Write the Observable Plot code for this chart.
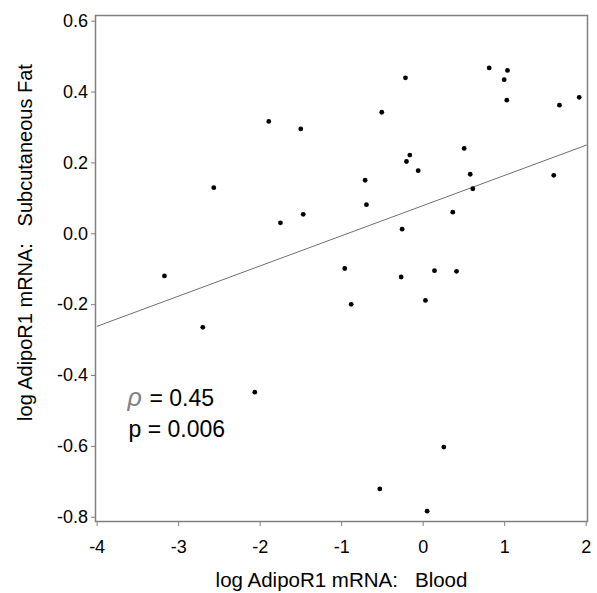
<!DOCTYPE html>
<html><head><meta charset="utf-8">
<script src="https://cdn.jsdelivr.net/npm/d3@7"></script>
<script src="https://cdn.jsdelivr.net/npm/@observablehq/plot@0.6"></script>
<style>body{margin:0;background:#fff}</style>
</head><body><div id="chart"></div>
<script>
// log AdipoR1 mRNA in blood (x) and subcutaneous fat (y)
const blood = [-1.894, -1.502, -2.569, -1.751, -1.472, -3.174,
  0.810, 1.034, 0.994, 1.026, -0.217, -0.508, 1.672, 1.914, 0.503, -0.164,
  -0.205, -0.061, 0.577, 0.609, 1.602, -0.712, -0.696, 0.363, -0.258, -0.962,
  0.139, 0.409, -0.270, 0.028, -0.883, 0.253, -0.532, 0.049, -2.704, -2.066];
const fat = [0.317, 0.296, 0.130, 0.031, 0.055, -0.119,
  0.468, 0.461, 0.435, 0.377, 0.440, 0.343, 0.363, 0.385, 0.241, 0.222,
  0.204, 0.178, 0.168, 0.127, 0.165, 0.151, 0.082, 0.061, 0.013, -0.098,
  -0.104, -0.106, -0.122, -0.188, -0.199, -0.602, -0.720, -0.783, -0.264, -0.447];
// regression line end points
const fitX = [-4, 2];
const fitY = [-0.261, 0.250];
const xTicks = [-4, -3, -2, -1, 0, 1, 2];
const yTicks = [-0.8, -0.6, -0.4, -0.2, 0.0, 0.2, 0.4, 0.6];
const rhoSymbol = "\u03C1";
const rhoText = "= 0.45";
const pText = "p = 0.006";
const xTitle = "log AdipoR1 mRNA:\u00a0\u00a0 Blood";
const yTitle = "log AdipoR1 mRNA:\u00a0\u00a0 Subcutaneous Fat";

const points = blood.map((x, i) => ({x, y: fat[i]}));
const fit = fitX.map((x, i) => ({x, y: fitY[i]}));
const font = "'Liberation Sans', Arial, Helvetica, sans-serif";

const chart = Plot.plot({
  width: 597, height: 593,
  marginLeft: 95, marginRight: 10, marginTop: 15, marginBottom: 72,
  style: {fontFamily: font, fontSize: "18px", background: "#fff", color: "#000"},
  x: {domain: [-4.02, 2.016]},
  y: {domain: [-0.812, 0.616]},
  marks: [
    Plot.axisX({ticks: xTicks, tickSize: 5, tickPadding: 14, tickFormat: d => String(d),
      stroke: "#808080", fill: "#000", label: null}),
    Plot.axisY({ticks: yTicks, tickSize: 4, tickPadding: 3.5, tickFormat: d => d.toFixed(1),
      stroke: "#808080", fill: "#000", label: null}),
    Plot.frame({stroke: "#808080", strokeWidth: 1.5}),
    Plot.line(fit, {x: "x", y: "y", stroke: "#707070", strokeWidth: 1}),
    Plot.dot(points, {x: "x", y: "y", r: 2.4, fill: "#000", stroke: "none"}),
    Plot.text([rhoSymbol], {text: d => d, frameAnchor: "top-left", textAnchor: "start", lineAnchor: "middle",
      dx: 32, dy: 382, fontSize: 25, fill: "#808080", fontStyle: "italic"}),
    Plot.text([rhoText], {text: d => d, frameAnchor: "top-left", textAnchor: "start", lineAnchor: "middle",
      dx: 54, dy: 383, fontSize: 23, fill: "#000"}),
    Plot.text([pText], {text: d => d, frameAnchor: "top-left", textAnchor: "start", lineAnchor: "middle",
      dx: 33, dy: 414, fontSize: 23, fill: "#000"}),
    Plot.text([xTitle], {text: d => d, frameAnchor: "bottom", textAnchor: "middle", lineAnchor: "middle",
      dy: 59, fontSize: 20.5, fill: "#000"}),
    Plot.text([yTitle], {text: d => d, frameAnchor: "left", textAnchor: "middle", lineAnchor: "middle",
      rotate: -90, dx: -70, dy: -26, fontSize: 20, fill: "#000"})
  ]
});
document.getElementById("chart").append(chart);
</script></body></html>
